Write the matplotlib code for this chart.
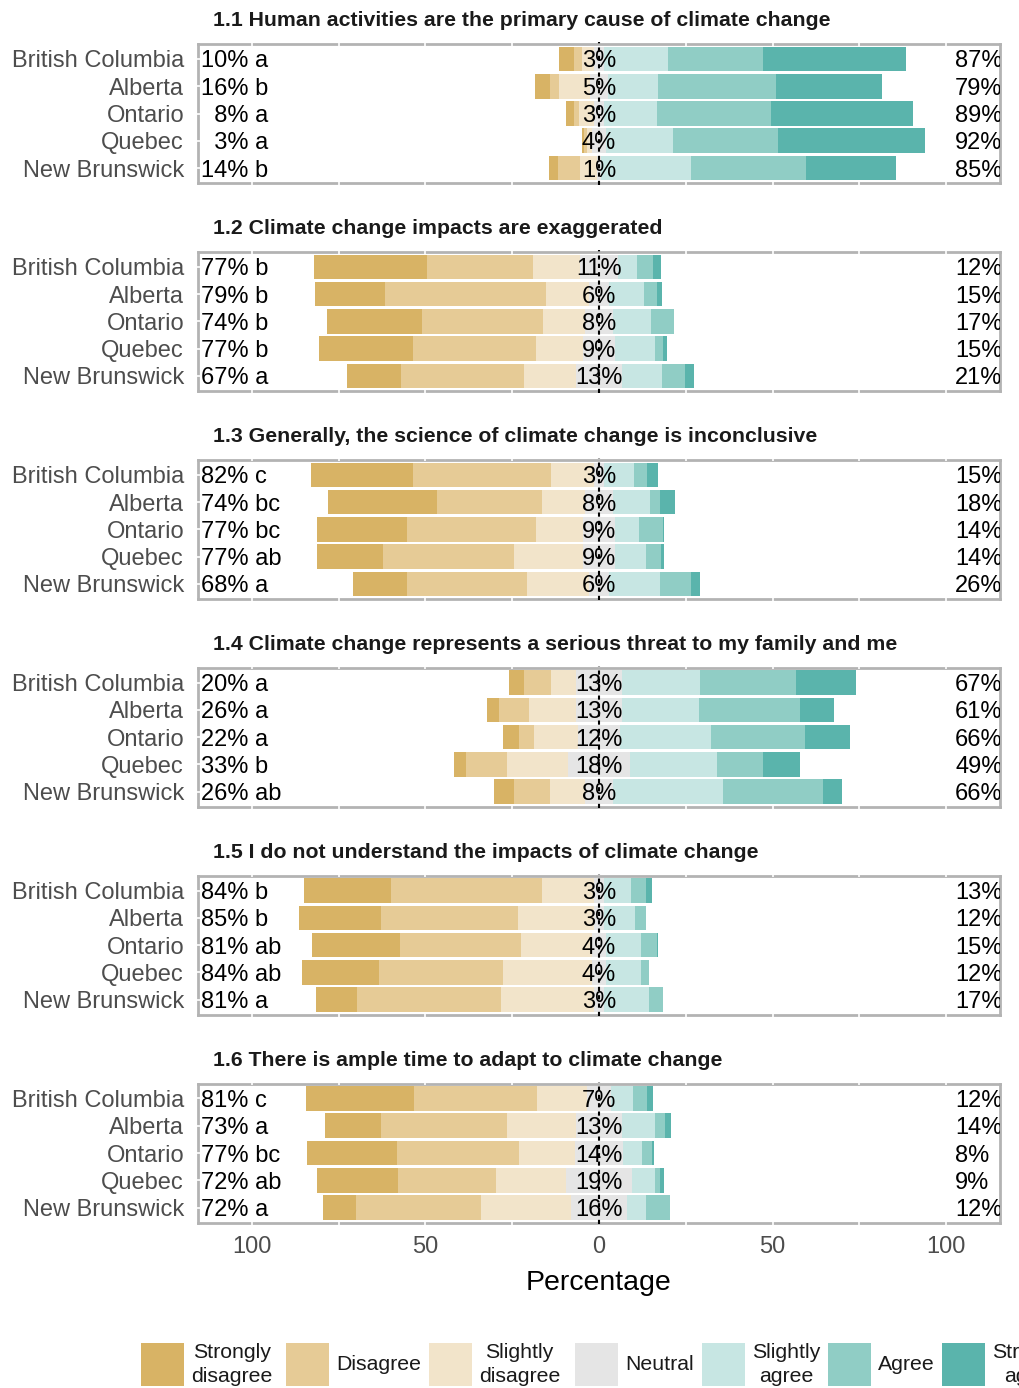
import matplotlib
matplotlib.use("Agg")
import matplotlib.pyplot as plt
from matplotlib.patches import Rectangle
import numpy as np

plt.rcParams['font.family'] = ['Liberation Sans', 'DejaVu Sans']

# ---------------- data ----------------
regions = ["British Columbia", "Alberta", "Ontario", "Quebec", "New Brunswick"]
categories = ["Strongly disagree", "Disagree", "Slightly disagree", "Neutral",
              "Slightly agree", "Agree", "Strongly agree"]
legend_labels = ["Strongly\ndisagree", "Disagree", "Slightly\ndisagree", "Neutral",
                 "Slightly\nagree", "Agree", "Strongly\nagree"]
colors = ["#D8B365", "#E6CB96", "#F2E4CA", "#E5E5E5", "#C7E6E3", "#90CDC5", "#5AB4AC"]

titles = [
    "1.1 Human activities are the primary cause of climate change",
    "1.2 Climate change impacts are exaggerated",
    "1.3 Generally, the science of climate change is inconclusive",
    "1.4 Climate change represents a serious threat to my family and me",
    "1.5 I do not understand the impacts of climate change",
    "1.6 There is ample time to adapt to climate change",
]

# rows: regions; columns: categories (percent)
q11 = [[4.3, 2.4, 3.3, 3, 18.4, 27.3, 41.3],
       [4.3, 2.7, 9.0, 5, 14.4, 34.2, 30.4],
       [2.4, 1.4, 4.2, 3, 15.1, 33.0, 40.9],
       [0.6, 0.9, 1.5, 4, 19.2, 30.5, 42.3],
       [2.7, 6.2, 5.1, 1, 25.9, 33.3, 25.8]]
q12 = [[32.4, 30.5, 13.6, 11, 5.5, 4.6, 2.2],
       [20.1, 46.4, 12.3, 6, 9.9, 3.7, 1.5],
       [27.3, 35.0, 12.0, 8, 11.1, 6.4, 0.0],
       [27.0, 35.6, 13.6, 9, 11.7, 2.2, 1.2],
       [15.6, 35.6, 15.0, 13, 11.6, 6.7, 2.5]]
q13 = [[29.2, 39.9, 12.3, 3, 8.6, 3.7, 3.1],
       [31.3, 30.4, 12.3, 8, 10.7, 2.8, 4.3],
       [25.9, 37.2, 13.6, 9, 7.1, 6.7, 0.4],
       [19.0, 37.6, 20.1, 9, 9.0, 4.4, 0.7],
       [15.6, 34.7, 17.6, 6, 14.5, 8.9, 2.7]]
q14 = [[4.3, 7.7, 7.3, 13, 22.5, 27.7, 17.3],
       [3.3, 8.6, 13.8, 13, 22.2, 29.2, 9.8],
       [4.6, 4.3, 12.7, 12, 26.4, 27.0, 12.9],
       [3.4, 11.7, 17.6, 18, 25.0, 13.3, 10.5],
       [5.5, 10.5, 10.1, 8, 31.6, 29.0, 5.3]]
q15 = [[25.0, 43.6, 14.8, 3, 7.7, 4.3, 1.8],
       [23.6, 39.6, 21.8, 3, 8.9, 3.1, 0.0],
       [25.2, 35.0, 20.4, 4, 10.0, 4.7, 0.4],
       [22.1, 35.9, 25.6, 4, 10.0, 2.4, 0.0],
       [11.9, 41.5, 26.7, 3, 12.9, 4.0, 0.0]]
q16 = [[31.0, 35.6, 14.3, 7, 6.3, 4.0, 1.8],
       [16.0, 36.4, 19.9, 13, 9.6, 2.8, 1.9],
       [25.8, 35.3, 16.0, 14, 5.3, 3.0, 0.6],
       [23.3, 28.1, 20.3, 19, 6.7, 1.3, 1.2],
       [9.5, 35.9, 26.1, 16, 5.5, 7.0, 0.0]]
values = [q11, q12, q13, q14, q15, q16]

left_labels = [
    ["10% a", "16% b", "  8% a", "  3% a", "14% b"],
    ["77% b", "79% b", "74% b", "77% b", "67% a"],
    ["82% c", "74% bc", "77% bc", "77% ab", "68% a"],
    ["20% a", "26% a", "22% a", "33% b", "26% ab"],
    ["84% b", "85% b", "81% ab", "84% ab", "81% a"],
    ["81% c", "73% a", "77% bc", "72% ab", "72% a"],
]
neutral_labels = [
    ["3%", "5%", "3%", "4%", "1%"],
    ["11%", "6%", "8%", "9%", "13%"],
    ["3%", "8%", "9%", "9%", "6%"],
    ["13%", "13%", "12%", "18%", "8%"],
    ["3%", "3%", "4%", "4%", "3%"],
    ["7%", "13%", "14%", "19%", "16%"],
]
right_labels = [
    ["87%", "79%", "89%", "92%", "85%"],
    ["12%", "15%", "17%", "15%", "21%"],
    ["15%", "18%", "14%", "14%", "26%"],
    ["67%", "61%", "66%", "49%", "66%"],
    ["13%", "12%", "15%", "12%", "17%"],
    ["12%", "14%", "8%", "9%", "12%"],
]
xticks = [-100, -50, 0, 50, 100]
xticklabels = ["100", "50", "0", "50", "100"]
grid_x = [-100, -75, -50, -25, 25, 50, 75, 100]

# ---------------- layout ----------------
W, H = 1019, 1388
fig = plt.figure(figsize=(W / 100, H / 100), dpi=100)

def px_rect(left, top, right, bottom):
    return [left / W, 1 - bottom / H, (right - left) / W, (bottom - top) / H]

border_col = "#B3B3B3"
txt_fs = 17
ypos = np.arange(1, len(regions) + 1)

for i, (title, vals) in enumerate(zip(titles, values)):
    top = 44 + 207.9 * i
    ax = fig.add_axes(px_rect(198, top, 1000, top + 139))
    v = np.array(vals, dtype=float)
    start = -(v[:, 0] + v[:, 1] + v[:, 2] + v[:, 3] / 2)
    left = start.copy()
    for k in range(len(categories)):
        ax.barh(ypos, v[:, k], left=left, height=0.9, color=colors[k],
                edgecolor="none", zorder=2, label=categories[k])
        left = left + v[:, k]

    ax.set_xlim(-115.5, 115.5)
    ax.set_ylim(5.55, 0.45)
    for s in ax.spines.values():
        s.set_color(border_col)
        s.set_linewidth(2.0)
    # white grid gaps on the border
    tr = ax.get_xaxis_transform()
    for gx in grid_x:
        ax.vlines(gx, -0.015, 0.012, transform=tr, colors="white", lw=1.2,
                  clip_on=False, zorder=2.6)
        ax.vlines(gx, 0.988, 1.015, transform=tr, colors="white", lw=1.2,
                  clip_on=False, zorder=2.6)
    ty = ax.get_yaxis_transform()
    for yy in ypos:
        ax.hlines(yy, -0.004, 0.003, transform=ty, colors="white", lw=1.2,
                  clip_on=False, zorder=2.6)
    # dashed zero line
    ax.vlines(0, -0.012, 1.012, transform=tr, colors="black", lw=1.5,
              linestyles=(0, (2, 2)), clip_on=False, zorder=3)

    for r in range(len(regions)):
        ax.text(-114.6, ypos[r], left_labels[i][r], ha="left", va="center_baseline",
                fontsize=txt_fs, color="black", zorder=4)
        ax.text(0, ypos[r], neutral_labels[i][r], ha="center", va="center_baseline",
                fontsize=txt_fs, color="black", zorder=4)
        ax.text(102.6, ypos[r], right_labels[i][r], ha="left", va="center_baseline",
                fontsize=txt_fs, color="black", zorder=4, clip_on=True)

    ax.set_yticks(ypos)
    ax.set_yticklabels(regions, fontsize=txt_fs, color="#4D4D4D")
    ax.tick_params(axis="y", length=0, pad=10)
    ax.set_xticks(xticks)
    if i == len(titles) - 1:
        ax.set_xticklabels(xticklabels, fontsize=txt_fs, color="#4D4D4D")
        ax.tick_params(axis="x", length=0, pad=10)
        ax.set_xlabel("Percentage", fontsize=20.5, color="black", labelpad=8)
    else:
        ax.set_xticklabels([])
        ax.tick_params(axis="x", length=0)
    ax.annotate(title, xy=(0, 1), xycoords="axes fraction",
                xytext=(10.8, 18.0), textcoords="offset points",
                ha="left", va="center_baseline", fontsize=15.3, fontweight="bold",
                color="#1A1A1A")

# ---------------- legend ----------------
sq_left = [141, 286, 429, 575, 702, 828, 942]
sq = 43
ly_top = 1343
for k in range(len(categories)):
    fig.add_artist(Rectangle((sq_left[k] / W, 1 - (ly_top + sq) / H), sq / W, sq / H,
                             transform=fig.transFigure, facecolor=colors[k],
                             edgecolor="none"))
    fig.text((sq_left[k] + sq + 7) / W, 1 - (ly_top + sq / 2) / H, legend_labels[k],
             ha="left", va="center", multialignment="center", fontsize=15.3,
             linespacing=1.3, color="#1A1A1A")

fig.savefig("out.png", dpi=100)
